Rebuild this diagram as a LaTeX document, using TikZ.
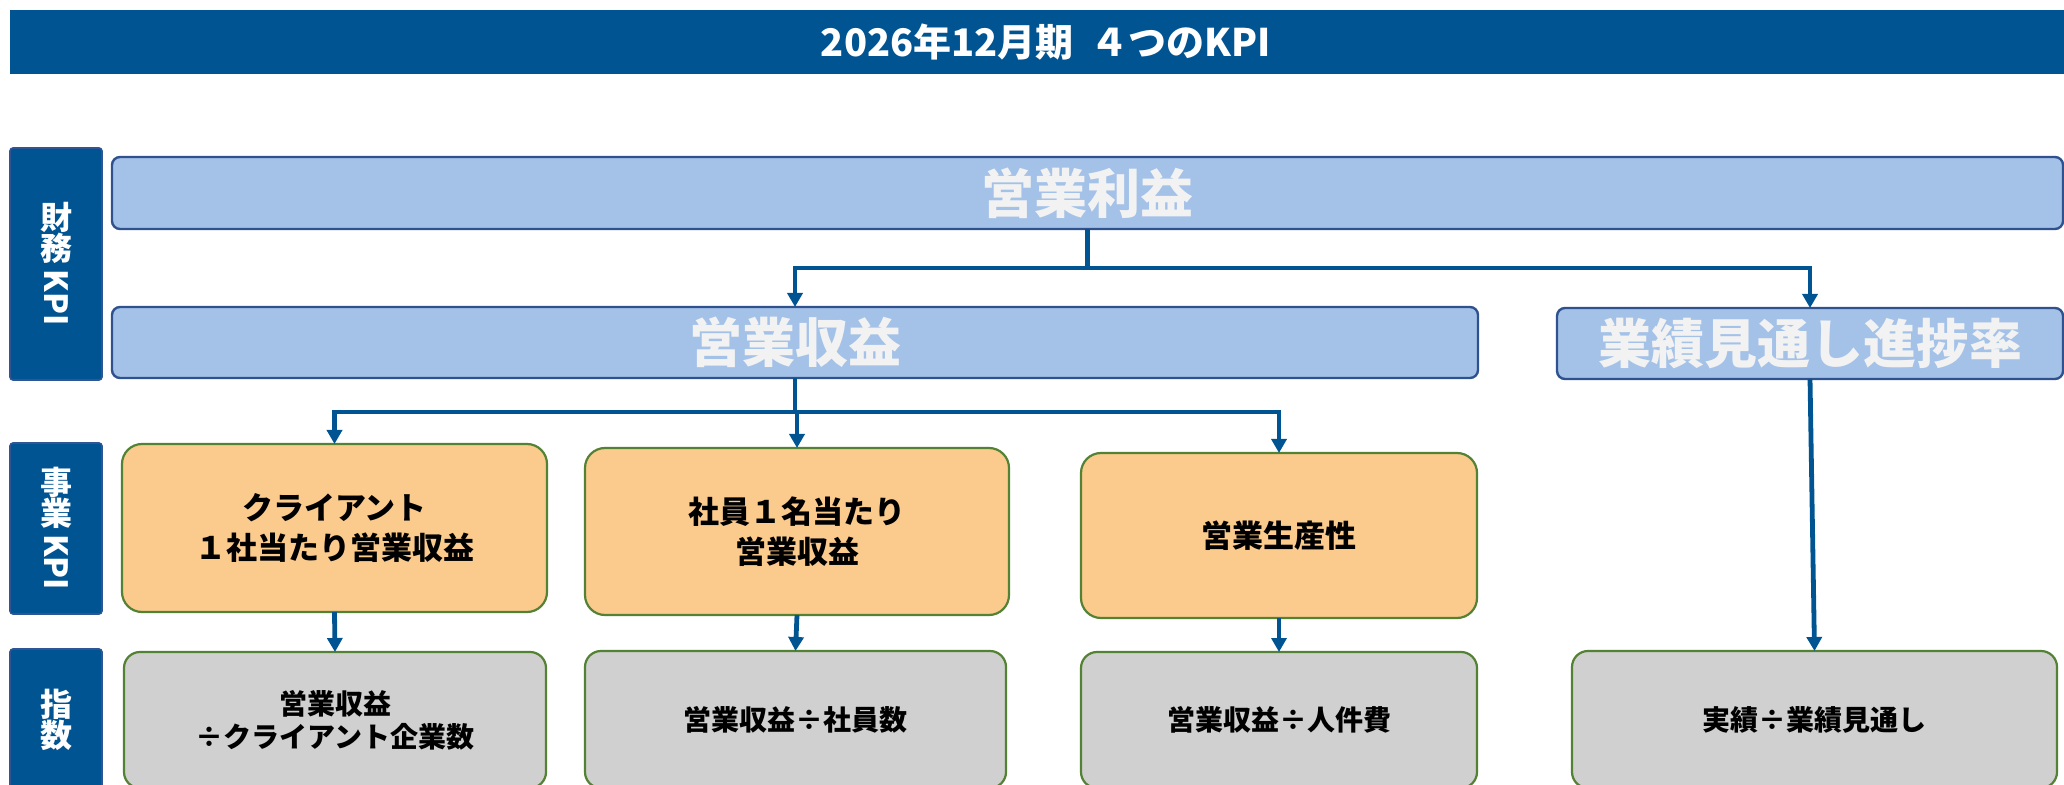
\documentclass[tikz,border=0pt]{standalone}
\usepackage{fontspec}
\setmainfont{Noto Sans CJK JP}
\usetikzlibrary{arrows.meta}

\definecolor{kpinavy}{RGB}{0,84,146}
\definecolor{sideline}{RGB}{47,85,151}
\definecolor{finfill}{RGB}{164,194,232}
\definecolor{finline}{RGB}{47,82,143}
\definecolor{bigtext}{RGB}{242,242,242}
\definecolor{kpifill}{RGB}{251,203,142}
\definecolor{kpiline}{RGB}{84,130,53}
\definecolor{idxfill}{RGB}{208,208,208}

\newcommand{\kpivert}{\raisebox{0.7em}{\rotatebox{-90}{KPI}}}

\begin{document}
\begin{tikzpicture}[
                x=0.5pt,y=-0.5pt,
                every node/.style={inner sep=0pt,outer sep=0pt},
                titlebar/.style={fill=kpinavy,text=white,minimum height=32pt,
                    font=\bfseries\fontsize{19}{21}\selectfont},
                sidebox/.style={fill=kpinavy,draw=sideline,line width=0.8pt,
                    rounded corners=1.5pt,minimum width=46pt,text=white,align=center,
                    font=\bfseries\fontsize{16}{15.5}\selectfont},
                finbox/.style={fill=finfill,draw=finline,line width=1.2pt,
                    rounded corners=4pt,text=bigtext,
                    font=\bfseries\fontsize{26.5}{28}\selectfont},
                kpibox/.style={fill=kpifill,draw=kpiline,line width=1.1pt,
                    rounded corners=10pt,align=center,
                    font=\bfseries\fontsize{15.5}{20}\selectfont},
                idxbox/.style={fill=idxfill,draw=kpiline,line width=1.1pt,
                    rounded corners=8pt,align=center,
                    font=\bfseries\fontsize{14}{16.5}\selectfont},
                link/.style={draw=kpinavy,line width=2.4pt},
                arr/.style={link,-{Triangle[length=7pt,width=7.5pt]}}
            ]
                \useasboundingbox (0,0) rectangle (2064,785);
                \clip (0,0) rectangle (2064,785);

                \node [titlebar,minimum width=1036pt] (title) at (1046,42) {2026年12月期\hspace{0.45em}４つのKPI};

                % row labels
                \node [sidebox,minimum height=116pt] (fin) at (56,264) {財\\務\\\kpivert};
                \node [sidebox,minimum height=85.5pt] (biz) at (56,528.5) {事\\業\\\kpivert};
                \node [sidebox,minimum height=71pt] (idx) at (56,720) {指\\数};

                % financial KPI
                \node [finbox,minimum width=975.5pt,minimum height=36pt] (op) at (1087.5,193) {営業利益};
                \node [finbox,minimum width=683pt,minimum height=35.5pt] (rev) at (795,342.5) {営業収益};
                \node [finbox,minimum width=253pt,minimum height=35.5pt] (prog) at (1810,343.5) {業績見通し進捗率};

                % business KPI
                \node [kpibox,minimum width=212.5pt,minimum height=84pt] (k1) at (334.5,528) {クライアント\\１社当たり営業収益};
                \node [kpibox,minimum width=212pt,minimum height=83.5pt] (k2) at (797,531.5) {社員１名当たり\\営業収益};
                \node [kpibox,minimum width=198pt,minimum height=82.5pt] (k3) at (1279,535.5) {営業生産性};

                % index
                \node [idxbox,minimum width=211pt,minimum height=68pt] (g1) at (335,720) {営業収益\\÷クライアント企業数};
                \node [idxbox,minimum width=210.5pt,minimum height=68.5pt] (g2) at (795.5,719.5) {営業収益÷社員数};
                \node [idxbox,minimum width=198pt,minimum height=68pt] (g3) at (1279,720) {営業収益÷人件費};
                \node [idxbox,minimum width=242.5pt,minimum height=68.5pt] (g4) at (1814.5,719.5) {実績÷業績見通し};

                \coordinate (jop) at (1087.5,268);
                \coordinate (jrev) at (795,412);
                \draw [link] (op.south) -- (jop);
                \draw [arr] (jop) -| (rev.north);
                \draw [arr] (jop) -| (prog.north);
                \draw [link] (rev.south) -- (jrev);
                \foreach \k in {k1,k2,k3}
                    \draw [arr] (jrev) -| (\k.north);
                \foreach \k/\g in {k1/g1,k2/g2,k3/g3}
                    \draw [arr] (\k.south) -- (\g.north);
                \draw [arr] (prog.south) -- (g4.north);
            \end{tikzpicture}
\end{document}
